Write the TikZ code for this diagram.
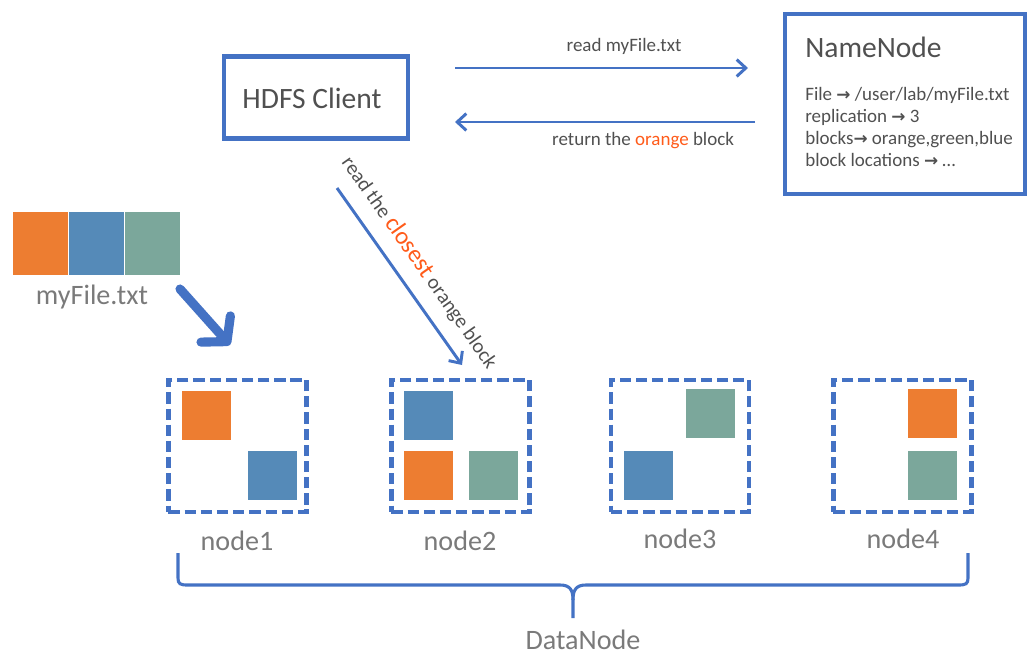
\documentclass[tikz,border=0pt]{standalone}
\usepackage{fontspec}
\setmainfont{Carlito}
\newfontfamily\symfont{DejaVu Sans}
\usetikzlibrary{arrows.meta}
\definecolor{hblue}{HTML}{4472C4}
\definecolor{borange}{HTML}{ED7D31}
\definecolor{bblue}{HTML}{558AB8}
\definecolor{bgreen}{HTML}{7BA79B}
\definecolor{tgray}{HTML}{505050}
\definecolor{lgray}{HTML}{7A7A7A}
\definecolor{hot}{HTML}{FF5B1A}
\newcommand{\ra}{{\symfont\bfseries\fontsize{12pt}{12pt}\selectfont\char"2192}}
\tikzset{
  solidbox/.style={draw=hblue, line width=2.9pt, rectangle},
  dnbox/.style={draw=hblue, line width=3.1pt, dash pattern=on 8pt off 3.5pt, rectangle, minimum width=3.45cm, minimum height=3.3cm},
  blk/.style={rectangle, inner sep=0pt, minimum size=1.25cm, draw=white, line width=0.4pt},
  msg/.style={draw=hblue, line width=2.1pt, -{Straight Barb[length=6.5pt,width=12pt]}},
  lbl/.style={text=lgray, font=\fontsize{20pt}{22pt}\selectfont},
  small/.style={text=tgray, font=\fontsize{13.5pt}{15.6pt}\selectfont}
}
\begin{document}
\begin{tikzpicture}[x=0.025cm, y=-0.025cm]
\useasboundingbox (0,0) rectangle (1035,667);

\node[solidbox, minimum width=4.6cm, minimum height=2.05cm](client) at (316,97.5) {};
\node[text=tgray, font=\fontsize{21pt}{24pt}\selectfont](clientname) at (312,98) {HDFS Client};

\node[solidbox, minimum width=6.0cm, minimum height=4.5cm](nn) at (905,104) {};
\node[anchor=base west, inner sep=0pt, text=tgray, font=\fontsize{21pt}{24pt}\selectfont](nntitle) at (805,57) {NameNode};
\node[small, anchor=north west, inner sep=0pt, align=left](nninfo) at (805,87) {File \ra{} /user/lab/myFile.txt\\replication \ra{} 3\\blocks\ra{} orange,green,blue\\block locations \ra{} \dots};

\coordinate (req_s) at (455,68);
\coordinate (req_e) at (748,68);
\coordinate (ret_s) at (755,122);
\coordinate (ret_e) at (455,122);
\draw[msg](req_s) -- node[small, pos=0.577, above=5pt]{read myFile.txt} (req_e);
\draw[msg](ret_s) -- node[small, pos=0.373, below=3pt]{return the \textcolor{hot}{orange} block} (ret_e);

\coordinate (rd_s) at (337,188);
\coordinate (rd_e) at (462,365);
\draw[msg](rd_s) -- node[small, sloped, above=6pt, font=\fontsize{14.5pt}{16pt}\selectfont]{read the \textcolor{hot}{\fontsize{17.5pt}{18pt}\selectfont closest} orange block} (rd_e);

\node[blk, minimum width=1.4cm, minimum height=1.6cm, fill=borange](f1) at (40,243) {};
\node[blk, minimum width=1.4cm, minimum height=1.6cm, fill=bblue](f2) at (96,243) {};
\node[blk, minimum width=1.4cm, minimum height=1.6cm, fill=bgreen](f3) at (152.5,243) {};
\node[lbl](fname) at (92,297) {myFile.txt};

\coordinate (put_s) at (180,289);
\coordinate (put_e) at (230,345);
\draw[hblue, line width=6.5pt, line cap=round, -{Straight Barb[length=12pt,width=28pt,round]}](put_s) -- (put_e);

\node[dnbox](dn1) at (237.5,446) {};
\node[dnbox](dn2) at (460.5,446) {};
\node[dnbox](dn3) at (680,446) {};
\node[dnbox](dn4) at (902.5,446) {};

\node[blk, fill=borange](dn1a) at (206,415) {};
\node[blk, fill=bblue](dn1b) at (272,475.5) {};
\node[blk, fill=bblue](dn2a) at (428,415) {};
\node[blk, fill=borange](dn2b) at (428,475.5) {};
\node[blk, fill=bgreen](dn2c) at (493,475.5) {};
\node[blk, fill=bgreen](dn3a) at (710,413.5) {};
\node[blk, fill=bblue](dn3b) at (648.5,475.5) {};
\node[blk, fill=borange](dn4a) at (932,413.5) {};
\node[blk, fill=bgreen](dn4b) at (932,475.5) {};

\node[lbl](n1) at (237,541) {node1};
\node[lbl](n2) at (460,541) {node2};
\node[lbl](n3) at (680,539) {node3};
\node[lbl](n4) at (903,539) {node4};

\draw[hblue, line width=2.2pt] (178,553) -- (178,578) .. controls (178,584) and (180,585) .. (188,585) -- (560,585) .. controls (570,585) and (573,590) .. (573,600) -- (573,618);
\draw[hblue, line width=2.2pt] (573,600) .. controls (573,590) and (576,585) .. (586,585) -- (958,585) .. controls (966,585) and (968,584) .. (968,578) -- (968,553);
\node[lbl](dn) at (583,640) {DataNode};
\end{tikzpicture}
\end{document}
